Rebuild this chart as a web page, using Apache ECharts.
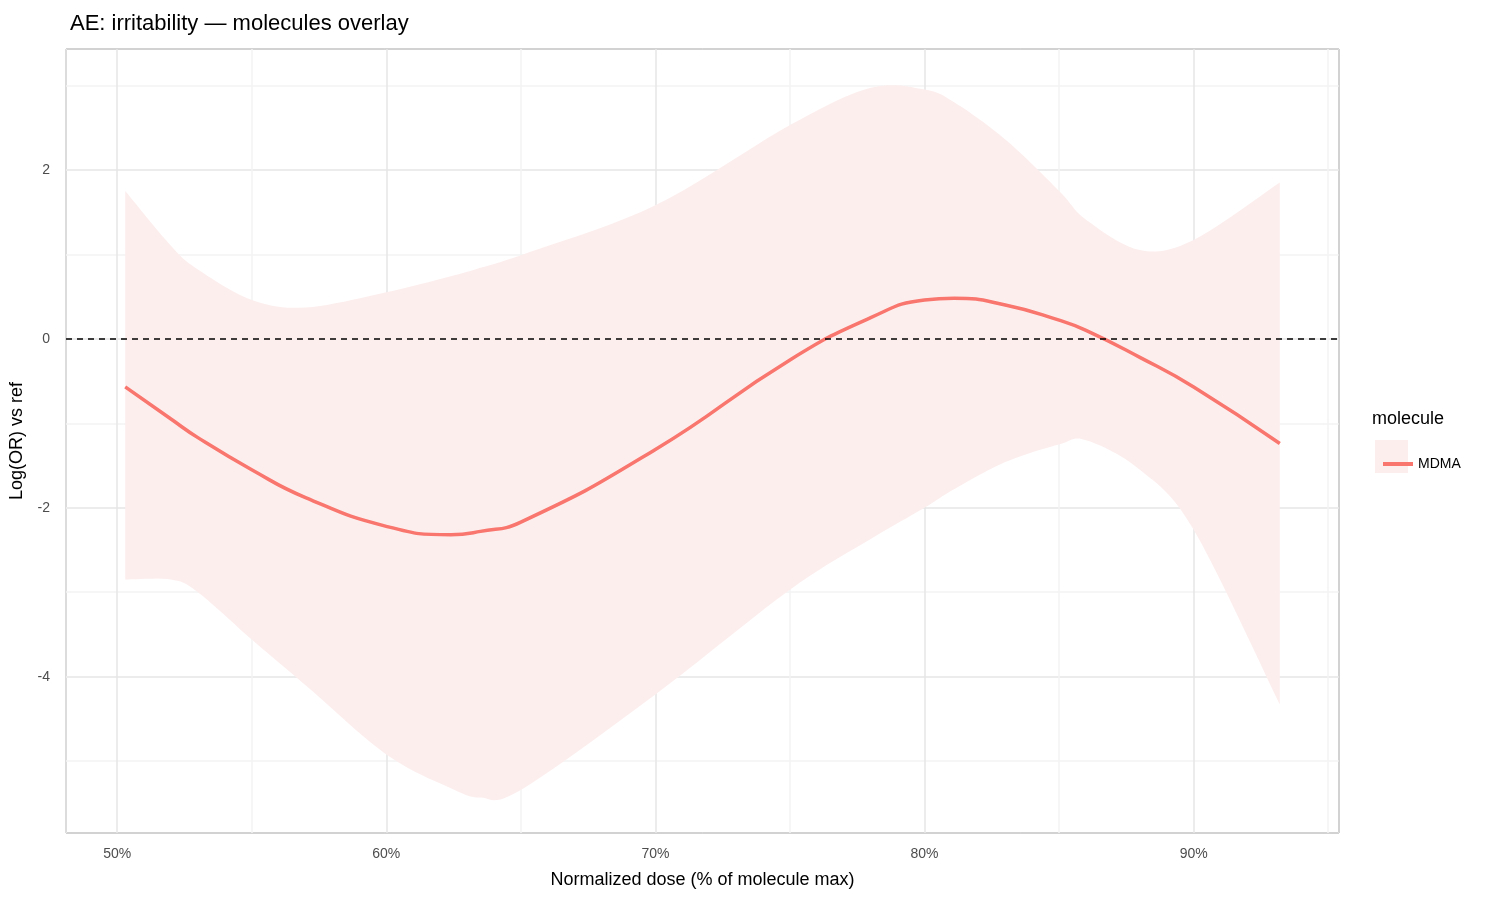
<!DOCTYPE html>
<html><head><meta charset="utf-8">
<script src="https://cdn.jsdelivr.net/npm/echarts@6/dist/echarts.min.js"></script>
<style>html,body{margin:0;background:#fff}#c{width:1500px;height:900px}</style></head>
<body><div id="c"></div>
<script>
const doses = [50.3, 52, 53, 55, 57, 60, 62.4, 63.5, 65, 70, 75, 78, 80, 81.1, 83, 85, 86, 88, 90, 93.2];
const fit   = [-0.57,-0.95,-1.17,-1.55,-1.88,-2.22,-2.32,-2.28,-2.17,-1.31,-0.25,0.25,0.46,0.48,0.40,0.22,0.10,-0.22,-0.57,-1.24];
const upper = [1.75,1.10,0.82,0.46,0.37,0.55,0.74,0.84,0.99,1.58,2.53,2.97,2.95,2.80,2.36,1.75,1.41,1.05,1.17,1.85];
const lower = [-2.85,-2.85,-3.0,-3.56,-4.1,-4.92,-5.32,-5.43,-5.34,-4.21,-2.97,-2.37,-2.0,-1.78,-1.46,-1.25,-1.2,-1.55,-2.26,-4.33];
const font = 'Liberation Sans, Arial, sans-serif';
// Catmull-Rom densify in pixel space
function densify(pts){
  const out=[];
  for(let i=0;i<pts.length-1;i++){
    const p0=pts[Math.max(i-1,0)],p1=pts[i],p2=pts[i+1],p3=pts[Math.min(i+2,pts.length-1)];
    for(let t=0;t<1;t+=0.1){
      const t2=t*t,t3=t2*t;
      out.push([0,1].map(k=>0.5*((2*p1[k])+(-p0[k]+p2[k])*t+(2*p0[k]-5*p1[k]+4*p2[k]-p3[k])*t2+(-p0[k]+3*p1[k]-3*p2[k]+p3[k])*t3)));
    }
  }
  out.push(pts[pts.length-1]);
  return out;
}
const chart = echarts.init(document.getElementById('c'));
chart.setOption({
  animation:false,
  title:{text:'AE: irritability — molecules overlay',left:65,top:8,textStyle:{fontFamily:font,fontSize:22,fontWeight:'normal',color:'#000'}},
  grid:{left:65,right:161,top:49,bottom:67,show:true,borderColor:'#333',borderWidth:1,backgroundColor:'transparent'},
  xAxis:{type:'value',min:48.1,max:95.4,splitNumber:9,
    name:'Normalized dose (% of molecule max)',nameLocation:'middle',nameGap:38,
    nameTextStyle:{fontFamily:font,fontSize:18,color:'#000'},
    axisLine:{show:false},axisTick:{show:false},
    axisLabel:{fontFamily:font,fontSize:14,color:'#4d4d4d',margin:14,
      formatter:v=>Math.abs(v%10)<1e-6?Math.round(v)+'%':''},
    splitLine:{show:true,lineStyle:{color:['#f3f3f3','#e6e6e6'],width:1.5}}},
  yAxis:{type:'value',min:-5.85,max:3.43,splitNumber:9,
    name:'Log(OR) vs ref',nameLocation:'middle',nameGap:40,
    nameTextStyle:{fontFamily:font,fontSize:18,color:'#000'},
    axisLine:{show:false},axisTick:{show:false},
    axisLabel:{fontFamily:font,fontSize:14,color:'#4d4d4d',margin:16,
      formatter:v=>Math.abs(Math.round(v)-v)<1e-6&&Math.round(v)%2===0?String(Math.round(v)):''},
    splitLine:{show:true,lineStyle:{color:['#e6e6e6','#f3f3f3'],width:1.5}}},
  legend:{data:['MDMA'],orient:'vertical',left:1378,top:452,itemWidth:30,itemHeight:4,
    icon:'rect',textStyle:{fontFamily:font,fontSize:14,color:'#000'}},
  graphic:[
    {type:'text',left:1372,top:410,style:{text:'molecule',font:'18px '+font,fill:'#000'}},
    {type:'rect',left:1375,top:440,shape:{width:33,height:33},style:{fill:'#fdeeee'},z:-1}
  ],
  series:[
    {type:'custom',silent:true,data:[0],renderItem:(params,api)=>{
      const up=densify(doses.map((x,i)=>api.coord([x,upper[i]])));
      const lo=densify(doses.map((x,i)=>api.coord([x,lower[i]])));
      return {type:'polygon',shape:{points:up.concat(lo.reverse())},style:{fill:'#fdeeee'}};
    }},
    {name:'MDMA',type:'line',data:doses.map((x,i)=>[x,fit[i]]),smooth:0.5,symbol:'none',lineStyle:{color:'#f8766d',width:3.5},itemStyle:{color:'#f8766d'},
      markLine:{silent:true,symbol:'none',label:{show:false},lineStyle:{color:'#000',type:[6,5],width:1.5},data:[{yAxis:0}]}}
  ]
});
</script></body></html>
